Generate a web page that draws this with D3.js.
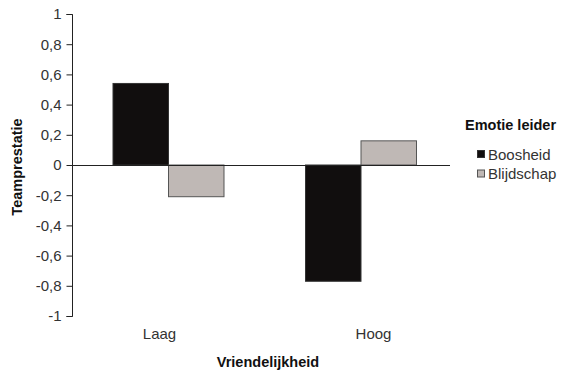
<!DOCTYPE html>
<html><head><meta charset="utf-8">
<script src="https://cdn.jsdelivr.net/npm/d3@7"></script>
<style>body{margin:0;background:#fff;}svg{display:block;font-family:"Liberation Sans",Arial,sans-serif;}</style>
</head><body><svg id="c" width="564" height="373"></svg>
<script>
const categories = ["Laag", "Hoog"];
const seriesNames = ["Boosheid", "Blijdschap"];
const boosheid = [0.54, -0.77];
const blijdschap = [-0.21, 0.16];
const yTicks = [1, 0.8, 0.6, 0.4, 0.2, 0, -0.2, -0.4, -0.6, -0.8, -1];
const colors = ["#110e0e", "#bfb8b5"];
const strokes = ["#333", "#555"];

const svg = d3.select("#c");
const y = d3.scaleLinear().domain([-1, 1]).range([316, 14]);
const x0 = d3.scaleBand().domain(categories).range([72.25, 457.25]).paddingInner(0.4234).paddingOuter(0.2117);
const x1 = d3.scaleBand().domain(seriesNames).range([0, x0.bandwidth()]);
const xLab = d3.scaleBand().domain(categories).range([52.5, 480.5]);
const fmt = d => d === 0 ? "0" : String(d).replace(".", ",");

// y axis
const yAxis = d3.axisLeft(y).tickValues(yTicks).tickSize(6).tickPadding(5).tickFormat(fmt);
const ga = svg.append("g").attr("transform", "translate(72.5,0)").call(yAxis);
ga.select(".domain").attr("stroke", "#222").attr("d", "M-6," + (y(1)+0.5) + "H0V" + (y(-1)+0.5) + "H-6");
ga.selectAll(".tick line").attr("stroke", "#222");
ga.selectAll(".tick text").attr("fill", "#333").style("font-size", "15px").style("font-family", "'Liberation Sans',Arial,sans-serif");

const data = categories.map((c, i) => ({cat: c, vals: [boosheid[i], blijdschap[i]]}));
const groups = svg.append("g").selectAll("g").data(data).join("g")
  .attr("transform", d => `translate(${x0(d.cat)},0)`);
groups.selectAll("rect").data(d => d.vals.map((v, j) => ({v, s: seriesNames[j], j}))).join("rect")
  .attr("x", d => x1(d.s))
  .attr("width", x1.bandwidth())
  .attr("y", d => y(Math.max(0, d.v)))
  .attr("height", d => Math.abs(y(d.v) - y(0)))
  .attr("fill", d => colors[d.j])
  .attr("stroke", d => strokes[d.j])
  .attr("stroke-width", 1);

// zero line
svg.append("line").attr("x1", 72).attr("x2", 450).attr("y1", y(0) + 0.5).attr("y2", y(0) + 0.5)
  .attr("stroke", "#222").attr("stroke-width", 1.2);

// category labels
svg.append("g").selectAll("text").data(categories).join("text")
  .attr("x", d => xLab(d) + xLab.bandwidth() / 2).attr("y", 339)
  .attr("text-anchor", "middle").attr("fill", "#333").style("font-size", "15px").text(d => d);

// axis titles
svg.append("text").attr("x", 268).attr("y", 367).attr("text-anchor", "middle")
  .attr("fill", "#111").style("font-size", "14.5px").style("font-weight", "bold").text("Vriendelijkheid");
svg.append("text").attr("transform", "translate(22,167) rotate(-90)").attr("text-anchor", "middle")
  .attr("fill", "#111").style("font-size", "14.5px").style("font-weight", "bold").text("Teamprestatie");

// legend
const lg = svg.append("g");
lg.append("text").attr("x", 465).attr("y", 130).attr("fill", "#111").style("font-size", "14.5px").style("font-weight", "bold").text("Emotie leider");
seriesNames.forEach((s, j) => {
  const yy = 150.5 + j * 19.5;
  lg.append("rect").attr("x", 477.5).attr("y", yy).attr("width", 7).attr("height", 7)
    .attr("fill", colors[j]).attr("stroke", strokes[j]);
  lg.append("text").attr("x", 488).attr("y", yy + 9).attr("fill", "#333").style("font-size", "15px").text(s);
});
</script></body></html>
